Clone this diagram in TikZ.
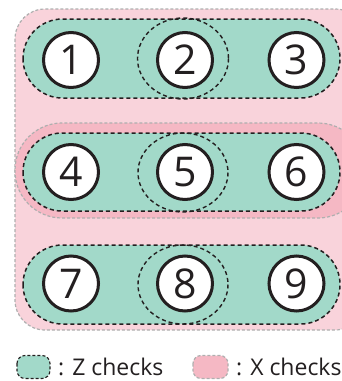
\documentclass[tikz,border=0pt]{standalone}
\usepackage{fontspec}
\setmainfont{Open Sans}
\definecolor{mint}{HTML}{A2D9C9}
\definecolor{lpink}{HTML}{F9D3DB}
\definecolor{dpink}{HTML}{F5B8C4}
\definecolor{gdash}{HTML}{AFAFAF}
\definecolor{ink}{HTML}{231F20}
\begin{document}
\begin{tikzpicture}[x=1pt,y=-1pt,
 qubit/.style={circle,draw=ink,line width=3pt,fill=white,minimum size=55pt,inner sep=0pt,text=ink,font=\fontsize{41}{41}\selectfont},
 zpill/.style={fill=mint,draw=ink,dash pattern=on 4pt off 3pt,line width=1.5pt},
 xreg/.style={draw=gdash,dash pattern=on 3pt off 2pt,line width=1.2pt},
 stab/.style={draw=ink,dash pattern=on 4pt off 3pt,line width=1.4pt},
 legtext/.style={anchor=base west,inner sep=0pt,text=ink,font=\fontsize{23}{23}\selectfont}]
\useasboundingbox (0,0) rectangle (341,381);
% X checks
\path[xreg,fill=lpink,rounded corners=30pt] (15,9) rectangle (365,330);
\path[xreg,fill=dpink,rounded corners=47pt] (15,123) rectangle (365,218);
% Z checks
\path[zpill,rounded corners=39.5pt] (23,19) rectangle (340,98);
\path[zpill,rounded corners=39pt] (23,133) rectangle (340,211);
\path[zpill,rounded corners=39.5pt] (23,245) rectangle (340,324);
% stabilizer ellipses
\draw[stab] (183,58.5) ellipse [x radius=45.5, y radius=40.5];
\draw[stab] (183,172.5) ellipse [x radius=45, y radius=39.5];
\draw[stab] (183,284.5) ellipse [x radius=45, y radius=39.5];
% qubits
\node[qubit] (q1) at (71,60) {1};
\node[qubit] (q2) at (185,60) {2};
\node[qubit] (q3) at (296.5,60) {3};
\node[qubit] (q4) at (71,172) {4};
\node[qubit] (q5) at (185,172) {5};
\node[qubit] (q6) at (296.5,172) {6};
\node[qubit] (q7) at (71,283.5) {7};
\node[qubit] (q8) at (185,283.5) {8};
\node[qubit] (q9) at (296.5,283.5) {9};
% legend
\path[zpill,line width=1.1pt,dash pattern=on 3pt off 2pt,rounded corners=8pt] (17,355.5) rectangle (50,378.5);
\node[legtext] (lz) at (58,375.5) {: Z checks};
\path[xreg,fill=dpink,rounded corners=8pt] (193,355.5) rectangle (228,378.5);
\node[legtext] (lx) at (236,375.5) {: X checks};
\end{tikzpicture}
\end{document}
